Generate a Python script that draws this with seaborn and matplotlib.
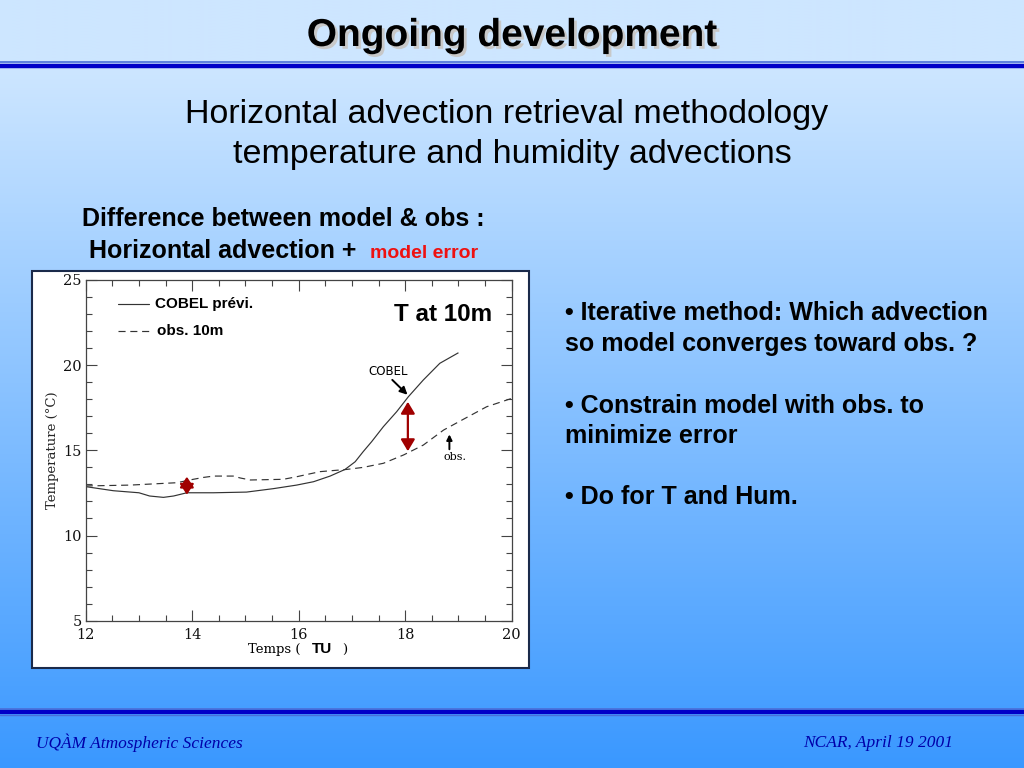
import numpy as np
import pandas as pd
import matplotlib
matplotlib.use("Agg")
import matplotlib.pyplot as plt
import matplotlib.patches as mpatches
import matplotlib.lines as mlines
import matplotlib.patheffects as pe
import seaborn as sns

# ---------------- data ----------------
cobel_t = [12.0, 12.52, 13.0, 13.2, 13.46, 13.65, 13.9, 14.4, 15.02, 15.52, 15.96,
           16.28, 16.59, 16.87, 17.06, 17.21, 17.37, 17.59, 17.84, 18.06, 18.34, 18.65, 19.0]
cobel_temp = [12.87, 12.63, 12.51, 12.32, 12.24, 12.32, 12.51, 12.51, 12.55, 12.75, 12.96,
              13.16, 13.49, 13.88, 14.33, 14.92, 15.51, 16.39, 17.27, 18.15, 19.13, 20.11, 20.73]
obs_t = [12.0, 12.83, 13.71, 14.02, 14.21, 14.4, 14.77, 14.9, 15.09, 15.71, 15.96,
         16.4, 16.9, 17.21, 17.59, 17.97, 18.34, 18.72, 19.09, 19.53, 20.0]
obs_temp = [12.91, 12.96, 13.1, 13.3, 13.41, 13.49, 13.49, 13.38, 13.26, 13.3, 13.45,
            13.75, 13.88, 14.0, 14.24, 14.73, 15.31, 16.19, 16.82, 17.56, 18.05]
err_x = [13.9, 18.05]
err_lo = [12.4, 14.95]
err_hi = [13.45, 17.85]
x_ticks = [12, 14, 16, 18, 20]
y_ticks = [5, 10, 15, 20, 25]

df = pd.concat([
    pd.DataFrame({"t": cobel_t, "T": cobel_temp, "s": "COBEL prévi."}),
    pd.DataFrame({"t": obs_t, "T": obs_temp, "s": "obs. 10m"}),
])

sns.set_style("ticks")
plt.rcParams["font.family"] = ["Liberation Sans", "DejaVu Sans"]
plt.rcParams["text.color"] = "black"

W, H = 1024, 768
fig = plt.figure(figsize=(10.24, 7.68), dpi=100)

def fx(px):
    return px / W

def fy(py):
    return 1 - py / H

# background gradient
bg = fig.add_axes([0, 0, 1, 1], zorder=-10)
top = np.array([205, 230, 255]) / 255
bot = np.array([58, 152, 255]) / 255
g = np.linspace(0, 1, 256)[:, None]
g = np.clip((g - 0.09) / 0.91, 0, 1)
img = top[None, None, :] * (1 - g[:, :, None]) + bot[None, None, :] * g[:, :, None]
bg.imshow(img, aspect="auto", extent=[0, 1, 0, 1], origin="upper")
bg.set_xlim(0, 1)
bg.set_ylim(0, 1)
bg.axis("off")

# header / footer rules
for y0, lw, c in [(62, 1.2, "#4a6fd8"), (65.5, 3.2, "#0000c8")]:
    fig.add_artist(mlines.Line2D([0, 1], [fy(y0), fy(y0)], color=c, lw=lw))
for y0, lw, c in [(709, 1.2, "#4a6fd8"), (712, 3.0, "#0000c8"), (715, 1.0, "#4a6fd8")]:
    fig.add_artist(mlines.Line2D([0, 1], [fy(y0), fy(y0)], color=c, lw=lw))

# title with shadow
fig.text(fx(512), fy(36), "Ongoing development", ha="center", va="center",
         fontsize=28, fontweight="bold", color="black",
         path_effects=[pe.withSimplePatchShadow(offset=(2, -2), shadow_rgbFace="#c8c8c8", alpha=1.0)])

fig.text(fx(507), fy(115), "Horizontal advection retrieval methodology", ha="center",
         va="center", fontsize=24.5, color="black")
fig.text(fx(512), fy(155), "temperature and humidity advections", ha="center",
         va="center", fontsize=24.5, color="black")

fig.text(fx(283), fy(219), "Difference between model & obs :", ha="center", va="center",
         fontsize=18, fontweight="bold")
fig.text(fx(89), fy(251), "Horizontal advection +", ha="left", va="center",
         fontsize=18, fontweight="bold")
fig.text(fx(370), fy(253), "model error", ha="left", va="center",
         fontsize=14, fontweight="bold", color="#ee1111")

bul = [("• Iterative method: Which advection", 313),
       ("so model converges toward obs. ?", 344),
       ("• Constrain model with obs. to", 406),
       ("minimize error", 436),
       ("• Do for T and Hum.", 497)]
for s, y0 in bul:
    fig.text(fx(565), fy(y0), s, ha="left", va="center", fontsize=18, fontweight="bold")

fig.text(fx(36), fy(743), "UQÀM Atmospheric Sciences", ha="left", va="center",
         fontsize=12.5, style="italic", family="Liberation Serif", color="#0000aa")
fig.text(fx(953), fy(743), "NCAR, April 19 2001", ha="right", va="center",
         fontsize=12.5, style="italic", family="Liberation Serif", color="#0000aa")

# white chart box
box = mpatches.Rectangle((fx(32), fy(668)), fx(529) - fx(32), fy(271) - fy(668),
                         transform=fig.transFigure, facecolor="white",
                         edgecolor="#1a2a4a", lw=1.5, zorder=0)
fig.add_artist(box)

# chart axes
ax = fig.add_axes([fx(85.7), fy(620.7), fx(511.7) - fx(85.7), fy(280) - fy(620.7)], zorder=5)
ax.set_facecolor("white")
sns.lineplot(data=df, x="t", y="T", style="s", dashes={"COBEL prévi.": (1, 0), "obs. 10m": (6, 4)},
             color="#333333", lw=0.85, ax=ax, legend=False, sort=False, estimator=None)
ax.set_xlim(12, 20)
ax.set_ylim(5, 25)
ax.set_xticks(x_ticks)
ax.set_yticks(y_ticks)
ax.set_xticks(np.arange(12, 20.01, 0.5), minor=True)
ax.set_yticks(np.arange(5, 25.01, 1), minor=True)
ax.tick_params(which="both", direction="in", top=True, right=True, color="#444444", width=0.8)
ax.tick_params(which="major", length=8)
ax.tick_params(which="minor", length=4)
ax.tick_params(axis="x", which="major", pad=5)
ax.tick_params(axis="y", which="major", pad=3)
for sp in ax.spines.values():
    sp.set_visible(True)
    sp.set_linewidth(0.9)
    sp.set_color("#444444")
for lab in ax.get_xticklabels() + ax.get_yticklabels():
    lab.set_family("DejaVu Serif")
    lab.set_fontsize(10.5)
    lab.set_color("#111111")
ax.set_xlabel("")
ax.set_ylabel("Temperature (°C)", family="DejaVu Serif", fontsize=9.5)
ax.yaxis.set_label_coords((59 - 85.7) / 426, 0.5)
fig.text(fx(248), fy(650), "Temps (", ha="left", va="center",
         family="DejaVu Serif", fontsize=9.5)
fig.text(fx(322), fy(649), "TU", ha="center", va="center", fontsize=11, fontweight="bold")
fig.text(fx(345), fy(650), ")", ha="center", va="center",
         family="DejaVu Serif", fontsize=9.5)

# legend drawn inside
ax.plot([12.6, 13.18], [23.57, 23.57], color="#333333", lw=0.85)
ax.plot([12.6, 13.18], [22.0, 22.0], color="#333333", lw=0.85, dashes=(6, 4))
ax.text(13.3, 23.6, "COBEL prévi.", fontsize=11, fontweight="bold", va="center")
ax.text(13.33, 22.0, "obs. 10m", fontsize=11, fontweight="bold", va="center")
ax.text(19.63, 23.0, "T at 10m", fontsize=17.5, fontweight="bold", ha="right", va="center")

# annotations
ax.annotate("", xy=(18.08, 18.15), xytext=(17.72, 19.25),
            arrowprops=dict(arrowstyle="-|>", color="black", lw=1.4, mutation_scale=11))
ax.text(17.3, 19.62, "COBEL", fontsize=8.5, family="DejaVu Sans", va="center")
ax.annotate("", xy=(18.83, 16.1), xytext=(18.83, 14.9),
            arrowprops=dict(arrowstyle="-|>", color="black", lw=1.4, mutation_scale=8))
ax.text(18.72, 14.6, "obs.", fontsize=8, family="DejaVu Serif", va="center")

for xv, lo, hi, hl, hw in zip(err_x, err_lo, err_hi, [0.45, 0.5], [0.3, 0.3]):
    ax.annotate("", xy=(xv, hi), xytext=(xv, lo),
                arrowprops=dict(arrowstyle=f"<|-|>,head_length={hl},head_width={hw}",
                                color="#a00000", lw=1.6, mutation_scale=14,
                                shrinkA=0, shrinkB=0))

fig.savefig("out.png", dpi=100)
